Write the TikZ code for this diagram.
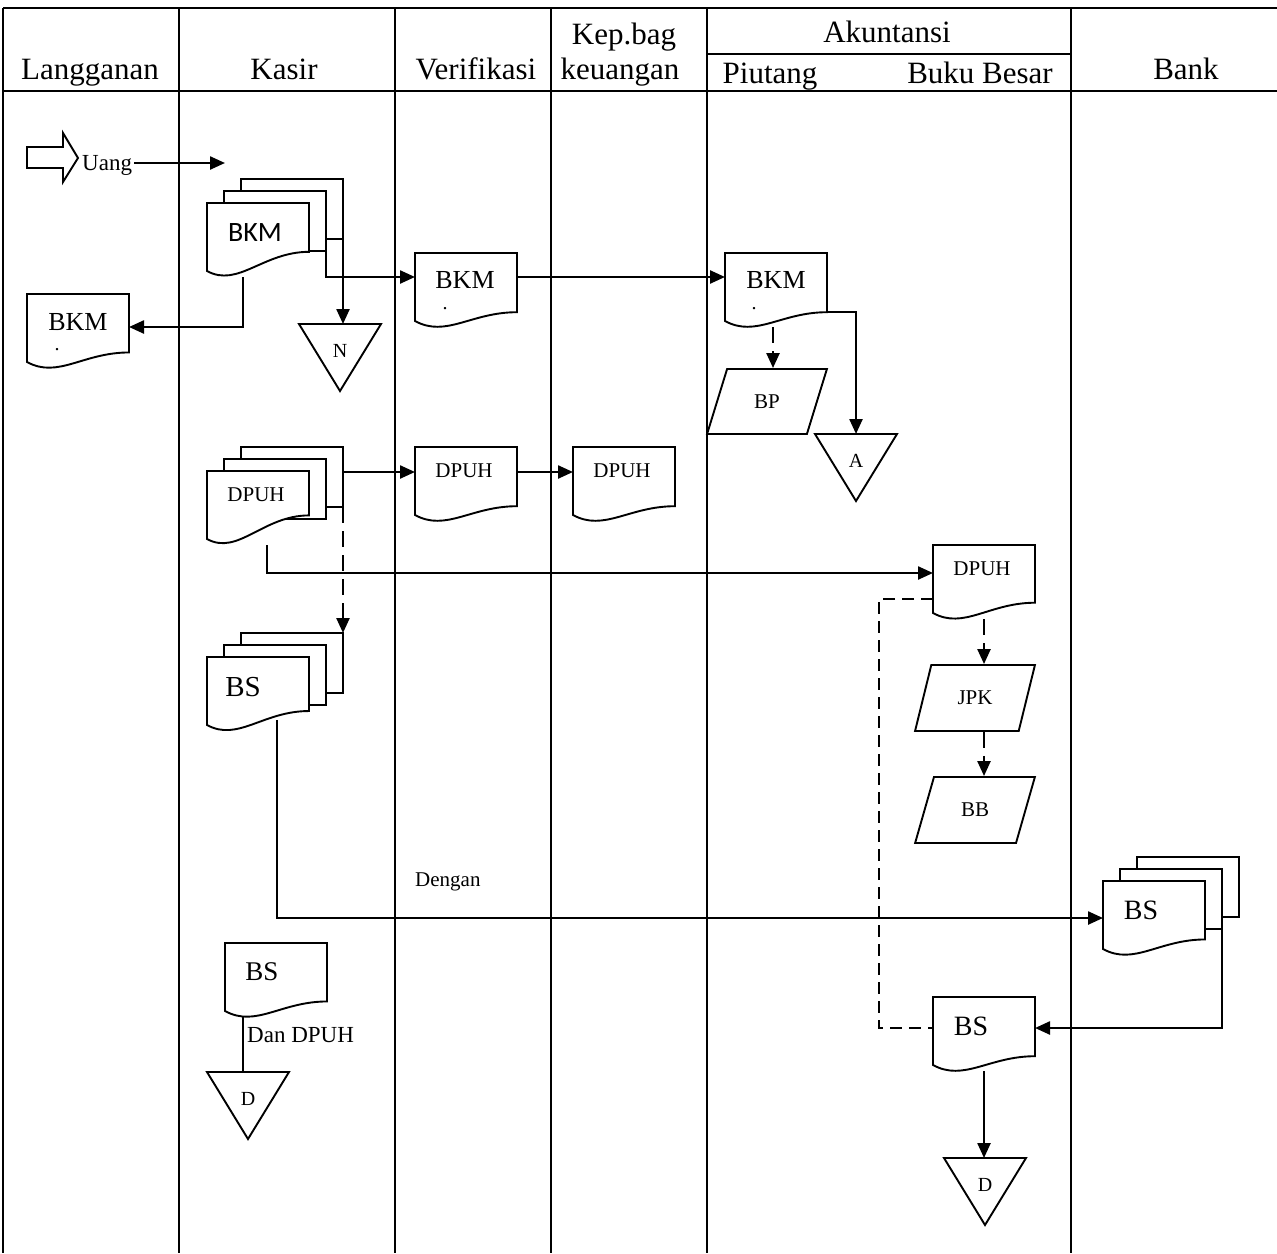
\documentclass[tikz,border=0pt]{standalone}
\usepackage{fontspec}
\setmainfont{Liberation Serif}
\newfontfamily\calib{Carlito}
\usetikzlibrary{arrows.meta,shapes.geometric,calc}

\tikzset{
  gridline/.style={line width=2.5pt},
  shp/.style={line width=1.9pt},
  arr/.style={line width=2.4pt,-{Triangle[length=15pt,width=13pt]}},
  darr/.style={arr,dash pattern=on 16pt off 8pt},
  dline/.style={line width=1.9pt,dash pattern=on 12pt off 7pt},
  plain/.style={line width=1.9pt},
  docbox/.style={rectangle,minimum width=102pt,minimum height=74pt,inner sep=0pt,outer sep=0pt},
  backbox/.style={shp,draw,fill=white,rectangle,minimum width=102pt,minimum height=60pt,inner sep=0pt,outer sep=0pt},
  para/.style={shp,draw,fill=white,trapezium,trapezium left angle=65,trapezium right angle=115,
    trapezium stretches=true,minimum width=120pt,minimum height=65pt,inner sep=0pt,
    font=\fontsize{21}{24}\selectfont},
  hdr/.style={font=\fontsize{31}{36}\selectfont,inner sep=0pt,anchor=base},
  lbl/.style={font=\fontsize{21}{24}\selectfont,inner sep=0pt},
  bigtxt/.style={font=\fontsize{27}{31}\selectfont,inner sep=0pt},
  dottxt/.style={font=\fontsize{20}{24}\selectfont,inner sep=0pt,anchor=base},
}

% document symbol: name, left x, top y, height ratio of the right edge
\newcommand\docshape[4]{%
  \begin{scope}[shift={(#2,#3)}]
    \draw[shp,fill=white] (0,0) -- (102,0) -- (102,{74*#4})
      .. controls (56,{74*#4}) and (31,85) .. (0,68) -- cycle;
  \end{scope}
  \node[docbox] (#1) at ({#2+51},{#3+37}) {};
}
% stack of three documents
\newcommand\docstack[4]{%
  \node[backbox,anchor=north west] (#1-3) at ({#2+34},{#3-24}) {};
  \node[backbox,anchor=north west] (#1-2) at ({#2+17},{#3-12}) {};
  \docshape{#1}{#2}{#3}{#4}%
}
% off-page triangle: name, centre x, top y, letter
\newcommand\offpage[4]{%
  \draw[shp,fill=white] ({#2-41},#3) -- ({#2+41},#3) -- (#2,{#3+67}) -- cycle;
  \coordinate (#1-top) at (#2,#3);
  \node[lbl,font=\fontsize{20}{24}\selectfont] (#1) at (#2,{#3+27}) {#4};
}

\begin{document}
\begin{tikzpicture}[x=1pt,y=-1pt]
\useasboundingbox (0,0) rectangle (1277,1253);

% ---- swimlane table ----
\draw[gridline] (3,8) -- (1277,8);
\draw[gridline] (3,91) -- (1277,91);
\draw[gridline] (707,54) -- (1071,54);
\foreach \cx in {3,179,395,551,707,1071}
  \draw[gridline] (\cx,8) -- (\cx,1253);

\node[hdr] (hLang) at (90,79) {Langganan};
\node[hdr] (hKasir) at (284,79) {Kasir};
\node[hdr] (hVer) at (476,79) {Verifikasi};
\node[hdr] (hKep) at (624,44) {Kep.bag};
\node[hdr] (hKeu) at (620,79) {keuangan};
\node[hdr] (hAkun) at (887,42) {Akuntansi};
\node[hdr] (hPiu) at (770,83) {Piutang};
\node[hdr] (hBB) at (980,83) {Buku Besar};
\node[hdr] (hBank) at (1186,79) {Bank};

% ---- incoming money ----
\draw[shp] (27,147) -- (63,147) -- (63,133) -- (78,158) -- (63,182) -- (63,168) -- (27,168) -- cycle;
\node[font=\fontsize{23}{26}\selectfont,inner sep=2pt,anchor=base west] (uang) at (80,170) {Uang};
\coordinate (uangEnd) at (225,163);

% ---- documents ----
\docshape{bkmL}{27}{294}{0.79}
\node[bigtxt,font=\fontsize{26}{30}\selectfont] (bkmL-t) at ($(bkmL.north west)+(51,28)$) {BKM};
\node[dottxt] (bkmL-d) at ($(bkmL.north west)+(30,56)$) {.};

\docstack{bkmK}{207}{203}{0.66}
\node[inner sep=0pt,font=\calib\fontsize{28}{32}\selectfont] (bkmK-t) at ($(bkmK.north west)+(48,30)$) {BKM};

\docshape{bkmV}{415}{253}{0.8}
\node[bigtxt,font=\fontsize{26}{30}\selectfont] (bkmV-t) at ($(bkmV.north west)+(50,27)$) {BKM};
\node[dottxt] (bkmV-d) at ($(bkmV.north west)+(30,56)$) {.};

\docshape{bkmA}{725}{253}{0.8}
\node[bigtxt,font=\fontsize{26}{30}\selectfont] (bkmA-t) at ($(bkmA.north west)+(51,27)$) {BKM};
\node[dottxt] (bkmA-d) at ($(bkmA.north west)+(29,56)$) {.};

\docstack{dpK}{207}{471}{0.6}
\node[lbl] (dpK-t) at ($(dpK.north west)+(49,24)$) {DPUH};

\docshape{dpV}{415}{447}{0.8}
\node[lbl] (dpV-t) at ($(dpV.north west)+(49,24)$) {DPUH};

\docshape{dpKB}{573}{447}{0.8}
\node[lbl] (dpKB-t) at ($(dpKB.north west)+(49,24)$) {DPUH};

\docshape{dpB}{933}{545}{0.78}
\node[lbl] (dpB-t) at ($(dpB.north west)+(49,24)$) {DPUH};

\docstack{bsK}{207}{657}{0.73}
\node[bigtxt,font=\fontsize{29}{33}\selectfont] (bsK-t) at ($(bsK.north west)+(36,30)$) {BS};

\docshape{bsS}{225}{943}{0.79}
\node[bigtxt] (bsS-t) at ($(bsS.north west)+(37,29)$) {BS};

\docstack{bsBank}{1103}{881}{0.79}
\node[bigtxt,font=\fontsize{28}{32}\selectfont] (bsBank-t) at ($(bsBank.north west)+(38,29)$) {BS};

\docshape{bsB}{933}{997}{0.8}
\node[bigtxt,font=\fontsize{28}{32}\selectfont] (bsB-t) at ($(bsB.north west)+(38,29)$) {BS};

% ---- ledgers and off-page connectors ----
\node[para] (bp) at (767,401.5) {BP};
\node[para,minimum height=66pt] (jpk) at (975,698) {JPK};
\node[para,minimum height=66pt] (bb) at (975,810) {BB};

\offpage{nK}{340}{324}{N}
\offpage{aT}{856}{434}{A}
\offpage{dK}{248}{1072}{D}
\offpage{dB}{985}{1158}{D}

\node[font=\fontsize{21}{24}\selectfont,inner sep=0pt,anchor=west] (dengan) at (415,882) {Dengan};
\node[font=\fontsize{23}{26}\selectfont,inner sep=0pt,anchor=west] (danDpuh) at (247,1035) {Dan DPUH};

% ---- flows ----
\draw[arr] (uang.east |- uangEnd) -- (uangEnd);
\draw[arr] ([xshift=36pt]bkmK.south west) |- ([yshift=4pt]bkmL.east);
\draw[arr] (bkmK-2.south east) |- ([yshift=13pt]bkmV.west);
\draw[arr] (bkmK-3.south east) -- (bkmK-3.south east |- nK-top);
\draw[arr] ([yshift=13pt]bkmV.east) -- ([yshift=13pt]bkmA.west);
\coordinate (bkmAout) at ([xshift=48pt]bkmA.south west);
\draw[darr] (bkmAout) -- (bkmAout |- bp.north);
\draw[arr] ([yshift=-22pt]bkmA.east) -| (aT-top);

\coordinate (dpVin) at ([yshift=12pt]dpV.west);
\draw[arr] (dpK-3.east |- dpVin) -- (dpVin);
\draw[arr] ([yshift=12pt]dpV.east) -- ([yshift=12pt]dpKB.west);
\draw[darr] (dpK-3.south east) -- (bsK-3.north east);
\draw[arr] ([xshift=60pt]dpK.south west) |- ([yshift=9pt]dpB.west);
\draw[darr] (dpB.south) -- (dpB.south |- jpk.north);
\draw[darr] (jpk.south -| dpB.south) -- (dpB.south |- bb.north);
\draw[dline] ([yshift=-17pt]dpB.west) -- ++(-54,0) |- ([yshift=6pt]bsB.west);

\draw[arr] ([xshift=70pt,yshift=11pt]bsK.south west) |- (bsBank.west);
\draw[arr] (bsBank-2.south east) |- ([yshift=6pt]bsB.east);
\draw[arr] (bsB.south) -- (bsB.south |- dB-top);
\coordinate (bsSout) at ([xshift=18pt]bsS.south west);
\draw[plain] (bsSout) -- (bsSout |- dK-top);
\end{tikzpicture}
\end{document}
